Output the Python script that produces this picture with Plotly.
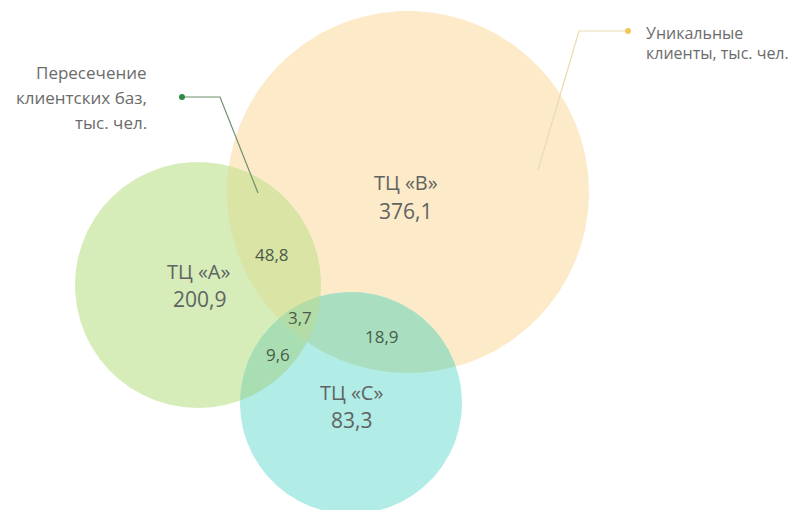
import numpy as np
import plotly.graph_objects as go

# Shopping centres and their client counts (thousand people)
centres = ["ТЦ «А»", "ТЦ «В»", "ТЦ «С»"]
unique_clients = [200.9, 376.1, 83.3]
overlap_pairs = [(0, 1), (0, 2), (1, 2)]
overlap_values = [48.8, 9.6, 18.9]
common_value = 3.7

# Circle layout (pixel units, y grows downward)
cx = [198, 408, 351]
cy = [285, 192, 403]
rad = [123, 181, 111]

fill_single = ["#d6ecb9", "#fdeac8", "#b2ece6"]
fill_pair = ["#d9e4a5", "#a8deb2", "#a9dec0"]
fill_triple = "#b3dca6"

# label anchors
name_pos = [(199, 271), (406, 182), (351, 392)]
value_pos = [(199, 299), (405, 211), (351, 420)]
pair_pos = [(272, 254), (278, 354), (382, 336)]
triple_pos = (300, 317)

W, H = 806, 510


def fmt(v):
    return f"{v:.1f}".replace(".", ",")


def region(idx):
    """Polygon of the intersection of the given circles (convex)."""
    t = np.linspace(0, 2 * np.pi, 1440, endpoint=False)
    pts = []
    for i in idx:
        x = cx[i] + rad[i] * np.cos(t)
        y = cy[i] + rad[i] * np.sin(t)
        keep = np.ones_like(t, dtype=bool)
        for j in idx:
            if j != i:
                keep &= (x - cx[j]) ** 2 + (y - cy[j]) ** 2 <= rad[j] ** 2
        pts.append(np.c_[x[keep], y[keep]])
    P = np.vstack(pts)
    c = P.mean(axis=0)
    P = P[np.argsort(np.arctan2(P[:, 1] - c[1], P[:, 0] - c[0]))]
    return np.vstack([P, P[:1]])


fig = go.Figure()


def add_patch(poly, color):
    fig.add_trace(go.Scatter(
        x=poly[:, 0], y=poly[:, 1], mode="lines", fill="toself",
        fillcolor=color, line=dict(width=0, color=color),
        hoverinfo="skip", showlegend=False))


for i in [1, 0, 2]:
    add_patch(region([i]), fill_single[i])
for k, (a, b) in enumerate(overlap_pairs):
    add_patch(region([a, b]), fill_pair[k])
add_patch(region([0, 1, 2]), fill_triple)

# leader lines with dots
fig.add_trace(go.Scatter(x=[258, 220, 182], y=[193, 97, 97], mode="lines",
                         line=dict(color="#6f8f6f", width=1.2),
                         hoverinfo="skip", showlegend=False))
fig.add_trace(go.Scatter(x=[182], y=[97], mode="markers",
                         marker=dict(color="#2f8a44", size=6),
                         hoverinfo="skip", showlegend=False))
fig.add_trace(go.Scatter(x=[538, 579, 628], y=[170, 31, 31], mode="lines",
                         line=dict(color="#e9dcb0", width=1.2),
                         hoverinfo="skip", showlegend=False))
fig.add_trace(go.Scatter(x=[628], y=[31], mode="markers",
                         marker=dict(color="#f2c85a", size=6),
                         hoverinfo="skip", showlegend=False))

font_family = "Open Sans"
anns = []
for name, val, (nx, ny), (vx, vy) in zip(centres, unique_clients, name_pos, value_pos):
    anns.append(dict(x=nx, y=ny, text=name, showarrow=False,
                     font=dict(family=font_family, size=20, color="#5e6462")))
    anns.append(dict(x=vx, y=vy, text=fmt(val), showarrow=False,
                     font=dict(family=font_family, size=21, color="#5e6462")))
for val, (x, y) in zip(overlap_values, pair_pos):
    anns.append(dict(x=x, y=y, text=fmt(val), showarrow=False,
                     font=dict(family=font_family, size=17, color="#4a5c49")))
anns.append(dict(x=triple_pos[0], y=triple_pos[1], text=fmt(common_value),
                 showarrow=False,
                 font=dict(family=font_family, size=17, color="#4a5c49")))

left_note = ["Пересечение", "клиентских баз,", "тыс. чел."]
for k, line in enumerate(left_note):
    anns.append(dict(x=149, y=72 + 25 * k, text=line, showarrow=False,
                     xanchor="right",
                     font=dict(family=font_family, size=17, color="#6b6b6b")))
right_note = ["Уникальные", "клиенты, тыс. чел."]
for k, line in enumerate(right_note):
    anns.append(dict(x=644, y=33 + 20 * k, text=line, showarrow=False,
                     xanchor="left",
                     font=dict(family=font_family, size=16, color="#6b6b6b")))

fig.update_layout(
    width=W, height=H, margin=dict(l=0, r=0, t=0, b=0),
    paper_bgcolor="white", plot_bgcolor="white",
    xaxis=dict(range=[0, W], visible=False, fixedrange=True),
    yaxis=dict(range=[H, 0], visible=False, fixedrange=True),
    annotations=anns, showlegend=False,
)

fig.write_html("out.html")
